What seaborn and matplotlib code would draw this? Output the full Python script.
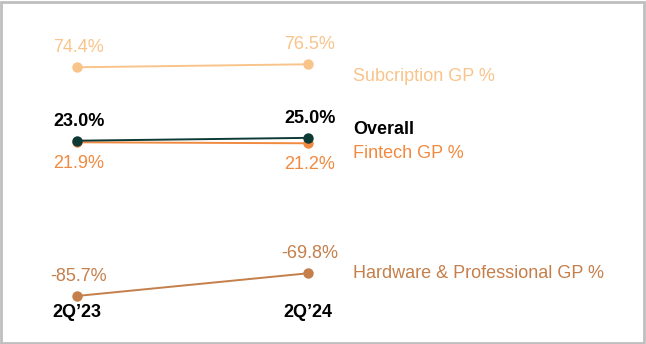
import matplotlib
matplotlib.use("Agg")
import matplotlib.pyplot as plt
import seaborn as sns
import pandas as pd
from matplotlib.patches import Rectangle

periods = ["2Q\u201923", "2Q\u201924"]
series_names = ["Subcription GP %", "Overall", "Fintech GP %", "Hardware & Professional GP %"]
subscription = [74.4, 76.5]
overall = [23.0, 25.0]
fintech = [21.9, 21.2]
hardware = [-85.7, -69.8]

colors = {
    "Subcription GP %": "#F9C48A",
    "Overall": "#0E3A35",
    "Fintech GP %": "#F08A40",
    "Hardware & Professional GP %": "#C47F4B",
}
label_colors = {
    "Subcription GP %": "#F9C48A",
    "Overall": "#000000",
    "Fintech GP %": "#F08A40",
    "Hardware & Professional GP %": "#C47F4B",
}
# value label offsets (points): above (+) or below (-)
val_off = {"Subcription GP %": 14, "Overall": 14, "Fintech GP %": -15, "Hardware & Professional GP %": 14}
# series label offsets (points) relative to last point
name_off = {"Subcription GP %": -8.5, "Overall": 6, "Fintech GP %": -7, "Hardware & Professional GP %": 0}
bold = {"Overall"}

values = [subscription, overall, fintech, hardware]
rows = []
for name, vals in zip(series_names, values):
    for i, (p, v) in enumerate(zip(periods, vals)):
        rows.append({"series": name, "x": i, "period": p, "value": v})
df = pd.DataFrame(rows)

sns.set_theme(style="white")
plt.rcParams["font.family"] = ["Liberation Sans", "DejaVu Sans"]

fig = plt.figure(figsize=(6.46, 3.44), dpi=100)
ax = fig.add_axes([0, 0, 1, 1])

order = ["Subcription GP %", "Hardware & Professional GP %", "Fintech GP %", "Overall"]
for name in order:
    sub = df[df.series == name]
    sns.lineplot(data=sub, x="x", y="value", color=colors[name], marker="o",
                 markersize=7.5, markeredgewidth=0, linewidth=1.4, ax=ax, legend=False)

fs = 13
for name, vals in zip(series_names, values):
    w = "bold" if name in bold else "normal"
    for i, v in enumerate(vals):
        ax.annotate(f"{v:.1f}%", xy=(i, v), xytext=(1.5, val_off[name]), textcoords="offset points",
                    ha="center", va="center", fontsize=fs, color=label_colors[name], fontweight=w)
    ax.annotate(name, xy=(1, vals[-1]), xytext=(32.5, name_off[name]), textcoords="offset points",
                ha="left", va="center", fontsize=fs, color=label_colors[name], fontweight=w)

for i, p in enumerate(periods):
    ax.text(i, 0.091, p, transform=ax.get_xaxis_transform(), ha="center", va="center",
            fontsize=fs, fontweight="bold", color="#000000")

ax.set_xlim(-0.331, 2.461)
ax.set_ylim(-119.3, 121.5)
ax.axis("off")

fig.patches.append(Rectangle((0.0015, 0.003), 0.9955, 0.991, transform=fig.transFigure,
                             fill=False, edgecolor="#BFBFBF", linewidth=2))

fig.savefig("out.png", dpi=100, facecolor="white")
